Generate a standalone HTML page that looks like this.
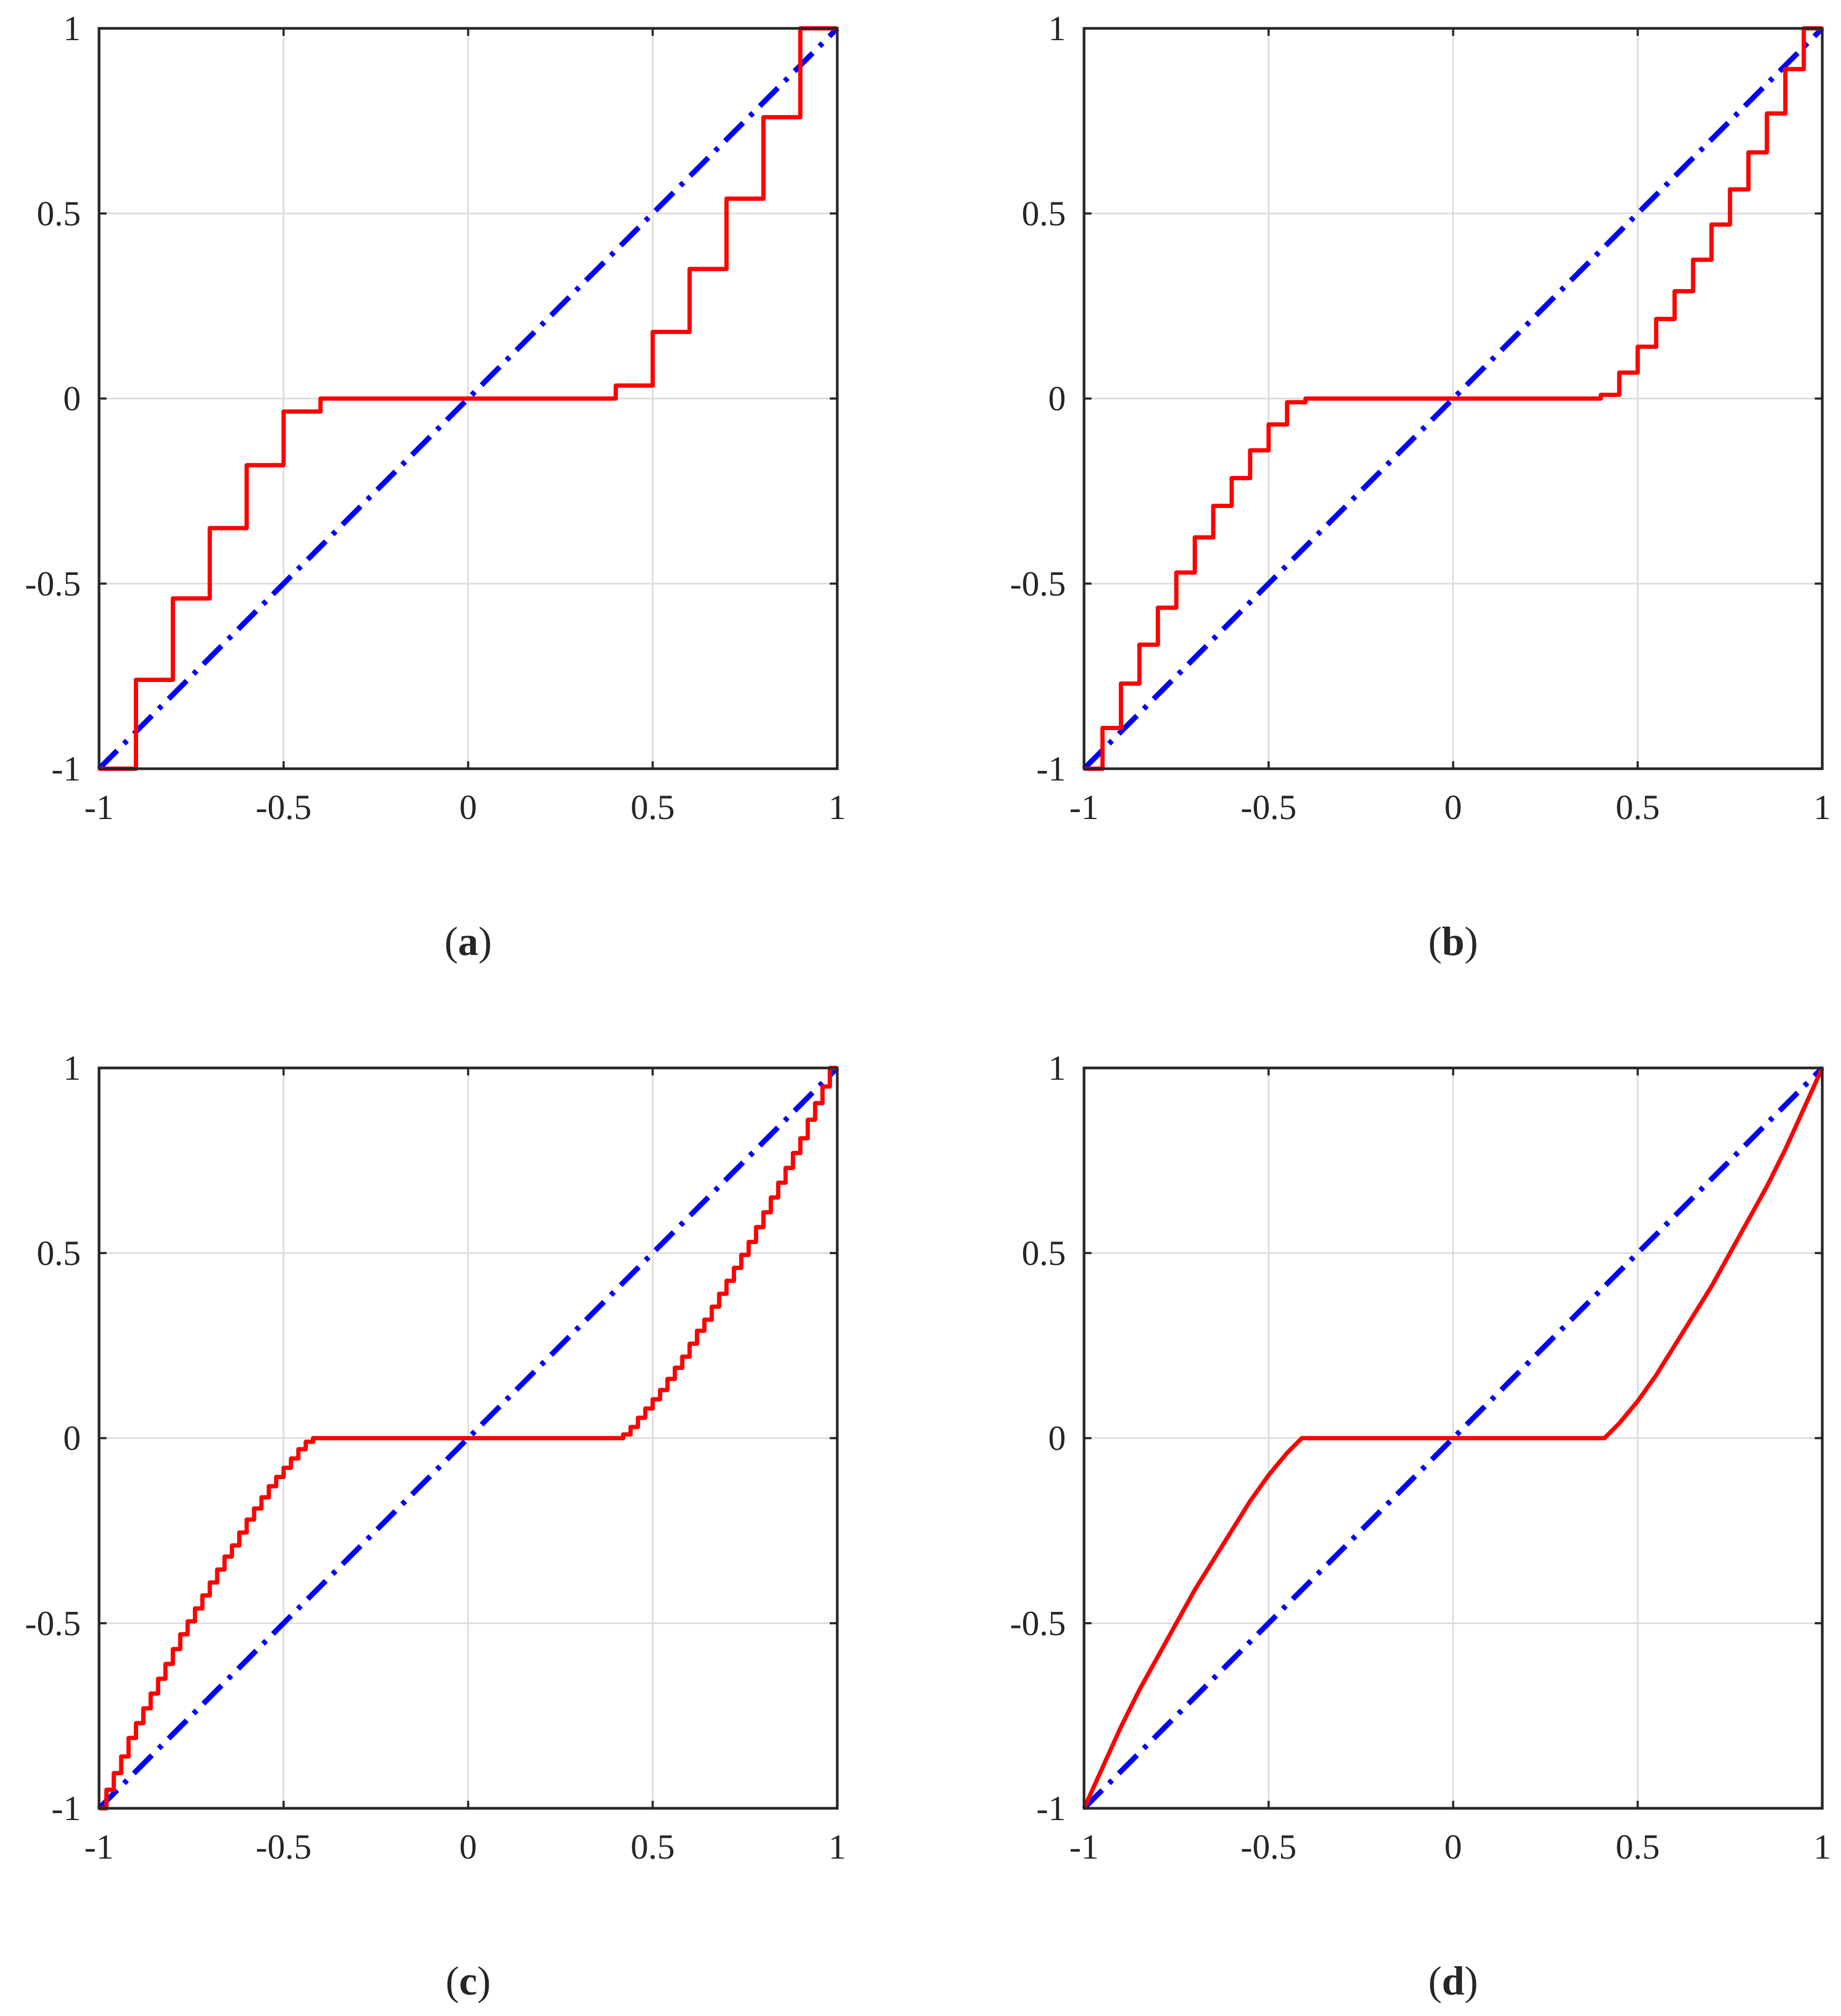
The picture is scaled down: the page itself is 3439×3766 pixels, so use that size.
<!DOCTYPE html>
<html><head><meta charset="utf-8"><style>
html,body{margin:0;padding:0;background:#fff}
svg{display:block}
text{font-family:"Liberation Serif",serif;fill:#262626}
</style></head><body>
<svg id="fig" width="3439" height="3766" viewBox="0 0 3439 3766" xmlns="http://www.w3.org/2000/svg"></svg>
<script>
// Tick values
const xTicks = [-1, -0.5, 0, 0.5, 1];
const yTicks = [-1, -0.5, 0, 0.5, 1];
const tickLabels = ["-1", "-0.5", "0", "0.5", "1"];
// Panel (a): step edges and values
const aEdges = [-1,-0.9,-0.8,-0.7,-0.6,-0.5,-0.4,0.4,0.5,0.6,0.7,0.8,0.9,1];
const aValues = [-1,-0.76,-0.54,-0.35,-0.18,-0.035,0,0.035,0.18,0.35,0.54,0.76,1];
// Panel (b)
const bEdges = [-1,-0.95,-0.9,-0.85,-0.8,-0.75,-0.7,-0.65,-0.6,-0.55,-0.5,-0.45,-0.4,0.4,0.45,0.5,0.55,0.6,0.65,0.7,0.75,0.8,0.85,0.9,0.95,1];
const bValues = [-1,-0.89,-0.77,-0.665,-0.565,-0.47,-0.375,-0.29,-0.215,-0.14,-0.07,-0.01,0,0.01,0.07,0.14,0.215,0.29,0.375,0.47,0.565,0.665,0.77,0.89,1];
// Panel (c): fine steps (0.02 wide)
const cNegEdges = [-1,-0.98,-0.96,-0.94,-0.92,-0.9,-0.88,-0.86,-0.84,-0.82,-0.8,-0.78,-0.76,-0.74,-0.72,-0.7,-0.68,-0.66,-0.64,-0.62,-0.6,-0.58,-0.56,-0.54,-0.52,-0.5,-0.48,-0.46,-0.44,-0.42];
const cNegValues = [-1,-0.95,-0.905,-0.86,-0.81,-0.77,-0.73,-0.69,-0.65,-0.61,-0.57,-0.53,-0.495,-0.46,-0.425,-0.39,-0.355,-0.32,-0.29,-0.255,-0.22,-0.19,-0.16,-0.13,-0.105,-0.08,-0.055,-0.03,-0.01];
const cMidValue = 0;
const cPosEdges = [0.42,0.44,0.46,0.48,0.5,0.52,0.54,0.56,0.58,0.6,0.62,0.64,0.66,0.68,0.7,0.72,0.74,0.76,0.78,0.8,0.82,0.84,0.86,0.88,0.9,0.92,0.94,0.96,0.98,1];
const cPosValues = [0.01,0.03,0.055,0.08,0.105,0.13,0.16,0.19,0.22,0.255,0.29,0.32,0.355,0.39,0.425,0.46,0.495,0.53,0.57,0.61,0.65,0.69,0.73,0.77,0.81,0.86,0.905,0.95,1.0];
// Panel (d): smooth curve samples
const dX = [-1,-0.95,-0.9,-0.85,-0.8,-0.75,-0.7,-0.65,-0.6,-0.55,-0.5,-0.45,-0.41,0.41,0.45,0.5,0.55,0.6,0.65,0.7,0.75,0.8,0.85,0.9,0.95,1];
const dY = [-1,-0.89,-0.78,-0.68,-0.59,-0.5,-0.41,-0.33,-0.25,-0.17,-0.1,-0.04,0,0,0.04,0.1,0.17,0.25,0.33,0.41,0.5,0.59,0.68,0.78,0.89,1];
// Identity reference line
const refX = [-1, 1];
const refY = [-1, 1];

const NS = "http://www.w3.org/2000/svg";
const svg = document.getElementById('fig');
const W = 1379, H = 1383;
function mk(tag, attrs, parent){const e=document.createElementNS(NS,tag);for(const k in attrs)e.setAttribute(k,attrs[k]);parent.appendChild(e);return e;}

function panel(id, L, T, letter, drawRed){
  const g = mk('g', {}, svg);
  
  
  const sx = v => L + (v + 1) / 2 * W;
  const sy = v => T + (1 - v) / 2 * H;
  xTicks.forEach((t,i)=>{
    if(i>0 && i<xTicks.length-1){
      const l = mk('line',{x1:sx(t),x2:sx(t),y1:T,y2:T+H,stroke:'#dcdcdc','stroke-width':3},g);
      
      
    }
  });
  yTicks.forEach((t,i)=>{
    if(i>0 && i<yTicks.length-1){
      const l = mk('line',{x1:L,x2:L+W,y1:sy(t),y2:sy(t),stroke:'#dcdcdc','stroke-width':3},g);
      
      
    }
  });
  xTicks.forEach(t=>{
    mk('line',{x1:sx(t),x2:sx(t),y1:T+H,y2:T+H-14,stroke:'#262626','stroke-width':4},g);
    mk('line',{x1:sx(t),x2:sx(t),y1:T,y2:T+14,stroke:'#262626','stroke-width':4},g);
  });
  yTicks.forEach(t=>{
    mk('line',{x1:L,x2:L+14,y1:sy(t),y2:sy(t),stroke:'#262626','stroke-width':4},g);
    mk('line',{x1:L+W,x2:L+W-14,y1:sy(t),y2:sy(t),stroke:'#262626','stroke-width':4},g);
  });
  const ref = mk('line',{x1:sx(refX[0]),y1:sy(refY[0]),x2:sx(refX[1]),y2:sy(refY[1]),stroke:'#0000ff','stroke-width':10,'stroke-dasharray':'48 18 8 18'},g);
  
  
  const d = drawRed(sx, sy);
  const red = mk('path',{d:d,fill:'none',stroke:'#ff0000','stroke-width':8,'stroke-linejoin':'round'},g);
  
  
  const box = mk('rect',{x:L,y:T,width:W,height:H,fill:'none',stroke:'#262626','stroke-width':5},g);
  
  
  xTicks.forEach((t,i)=>{
    const tx = mk('text',{x:sx(t),y:T+H+94,'text-anchor':'middle','font-size':66},g);
    tx.textContent = tickLabels[i];
    
    
  });
  yTicks.forEach((t,i)=>{
    const tx = mk('text',{x:L-34,y:sy(t)+22,'text-anchor':'end','font-size':66},g);
    tx.textContent = tickLabels[i];
    
    
  });
  const cap = mk('text',{x:L+W/2,y:T+H+348,'text-anchor':'middle','font-size':76},g);
  
  
  cap.innerHTML = '(<tspan font-weight="bold">'+letter+'</tspan>)';
}

function stepPath(edges, values){
  return (sx, sy) => {
    let d = 'M' + sx(edges[0]) + ',' + sy(values[0]);
    for(let i=0;i<values.length;i++){
      if(i>0) d += ' V' + sy(values[i]);
      d += ' H' + sx(edges[i+1]);
    }
    return d;
  };
}
function cPath(sx, sy){
  const allEdges = cNegEdges.concat(cPosEdges);
  const allVals = cNegValues.concat([cMidValue]).concat(cPosValues);
  return stepPath(allEdges, allVals)(sx, sy);
}
function dPath(sx, sy){
  return dX.map((x,i)=>(i?'L':'M')+sx(x)+','+sy(dY[i])).join(' ');
}

panel('a', 185, 53, 'a', stepPath(aEdges, aValues));
panel('b', 2025, 53, 'b', stepPath(bEdges, bValues));
panel('c', 185, 1995, 'c', cPath);
panel('d', 2025, 1995, 'd', dPath);
</script>
</body></html>
